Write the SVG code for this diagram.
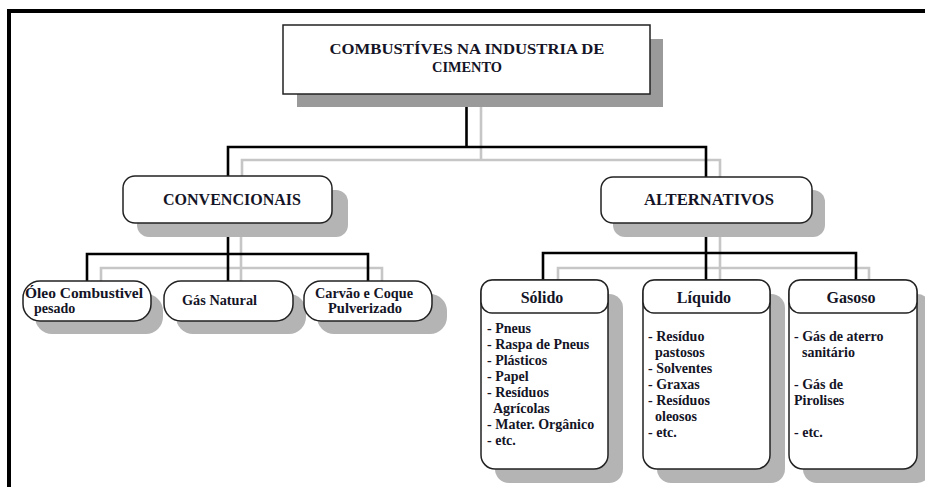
<svg xmlns="http://www.w3.org/2000/svg" width="925" height="487" viewBox="0 0 925 487">
  <style>
    .frame { fill: none; stroke: #000; stroke-width: 4; }
    .box { fill: #fff; stroke: #222; stroke-width: 1.5; }
    .shadow { fill: #b4b4b4; }
    .shadow-dark { fill: #9a9a9a; }
    .link { fill: none; stroke: #000; stroke-width: 2.6; }
    .link-ghost { fill: none; stroke: #c6c6c6; stroke-width: 2.6; }
    text { font-family: "Liberation Serif", "Times New Roman", serif; font-weight: bold; fill: #141426; }
    .title { font-size: 15px; text-anchor: middle; }
    .head { font-size: 16px; text-anchor: middle; }
    .leaf { font-size: 14px; }
    .item { font-size: 14px; }
  </style>

  <rect width="925" height="487" fill="#fff"/>

  <!-- page frame: top and left rule -->
  <path class="frame" d="M9,487 V11 H925"/>

  <!-- connectors (light offset line drawn under the black one) -->
  <g id="connectors">
    <path class="link-ghost" d="M481,106 V160 M242,176 V160 H720 V177"/>
    <path class="link-ghost" d="M241,237 V283 M101,283 V268 H382 V283"/>
    <path class="link-ghost" d="M720,237 V280 M558,280 V268 H869 V280"/>
    <path class="link" d="M466.5,94 V147 M228,176 V147 H706 V177"/>
    <path class="link" d="M228,223 V283 M87,283 V254 H368 V283"/>
    <path class="link" d="M706,223 V280 M543,280 V253 H856 V280"/>
  </g>

  <g id="root">
    <rect class="shadow-dark" x="297" y="39" width="366" height="68"/>
    <rect class="box" x="283" y="25" width="367" height="69"/>
    <text class="title" x="467" y="54" textLength="275" lengthAdjust="spacingAndGlyphs">COMBUSTÍVES NA INDUSTRIA DE</text>
    <text class="title" x="467" y="72" textLength="70" lengthAdjust="spacingAndGlyphs">CIMENTO</text>
  </g>

  <g id="convencionais">
    <rect class="shadow" x="137" y="190" width="211" height="47" rx="12"/>
    <rect class="box" x="123" y="176" width="209" height="47" rx="12"/>
    <text class="head" x="232" y="205" textLength="138" lengthAdjust="spacingAndGlyphs">CONVENCIONAIS</text>
  </g>

  <g id="alternativos">
    <rect class="shadow" x="613" y="190" width="212" height="47" rx="12"/>
    <rect class="box" x="601" y="177" width="211" height="46" rx="12"/>
    <text class="head" x="709" y="205" textLength="130" lengthAdjust="spacingAndGlyphs">ALTERNATIVOS</text>
  </g>

  <g id="oleo">
    <rect class="shadow" x="35" y="294" width="128" height="40" rx="17"/>
    <rect class="box" x="23" y="281" width="128" height="40" rx="17"/>
    <text class="leaf" x="25" y="298" textLength="118" lengthAdjust="spacingAndGlyphs">Óleo Combustivel</text>
    <text class="leaf" x="34" y="313">pesado</text>
  </g>

  <g id="gas-natural">
    <rect class="shadow" x="176" y="294" width="130" height="40" rx="17"/>
    <rect class="box" x="164" y="281" width="129" height="40" rx="17"/>
    <text class="leaf" x="182" y="305" textLength="75" lengthAdjust="spacingAndGlyphs">Gás Natural</text>
  </g>

  <g id="carvao">
    <rect class="shadow" x="317" y="294" width="130" height="40" rx="17"/>
    <rect class="box" x="304" y="281" width="128" height="40" rx="17"/>
    <text class="leaf" x="315" y="298" textLength="98" lengthAdjust="spacingAndGlyphs">Carvão e Coque</text>
    <text class="leaf" x="328" y="313" textLength="74" lengthAdjust="spacingAndGlyphs">Pulverizado</text>
  </g>

  <g id="solido">
    <rect class="shadow" x="495" y="294" width="128" height="189" rx="14"/>
    <rect class="box" x="481" y="280" width="127" height="189" rx="14"/>
    <rect class="box" x="481" y="280" width="127" height="33" rx="11"/>
    <text class="head" x="542" y="303">Sólido</text>
    <text class="item" x="487" y="333">- Pneus</text>
    <text class="item" x="487" y="349">- Raspa de Pneus</text>
    <text class="item" x="487" y="365">- Plásticos</text>
    <text class="item" x="487" y="381">- Papel</text>
    <text class="item" x="487" y="397">- Resíduos</text>
    <text class="item" x="493" y="413">Agrícolas</text>
    <text class="item" x="487" y="429">- Mater. Orgânico</text>
    <text class="item" x="487" y="445">- etc.</text>
  </g>

  <g id="liquido">
    <rect class="shadow" x="657" y="294" width="128" height="189" rx="14"/>
    <rect class="box" x="643" y="280" width="127" height="189" rx="14"/>
    <rect class="box" x="643" y="280" width="127" height="33" rx="11"/>
    <text class="head" x="704" y="303">Líquido</text>
    <text class="item" x="648" y="341">- Resíduo</text>
    <text class="item" x="655" y="357">pastosos</text>
    <text class="item" x="648" y="373">- Solventes</text>
    <text class="item" x="648" y="389">- Graxas</text>
    <text class="item" x="648" y="405">- Resíduos</text>
    <text class="item" x="655" y="421">oleosos</text>
    <text class="item" x="648" y="437">- etc.</text>
  </g>

  <g id="gasoso">
    <rect class="shadow" x="803" y="294" width="128" height="189" rx="14"/>
    <rect class="box" x="789" y="280" width="128" height="189" rx="14"/>
    <rect class="box" x="789" y="280" width="128" height="33" rx="11"/>
    <text class="head" x="851" y="303">Gasoso</text>
    <text class="item" x="794" y="341">- Gás de aterro</text>
    <text class="item" x="802" y="357">sanitário</text>
    <text class="item" x="794" y="389">- Gás de</text>
    <text class="item" x="794" y="405">Pirolises</text>
    <text class="item" x="794" y="437">- etc.</text>
  </g>
</svg>
